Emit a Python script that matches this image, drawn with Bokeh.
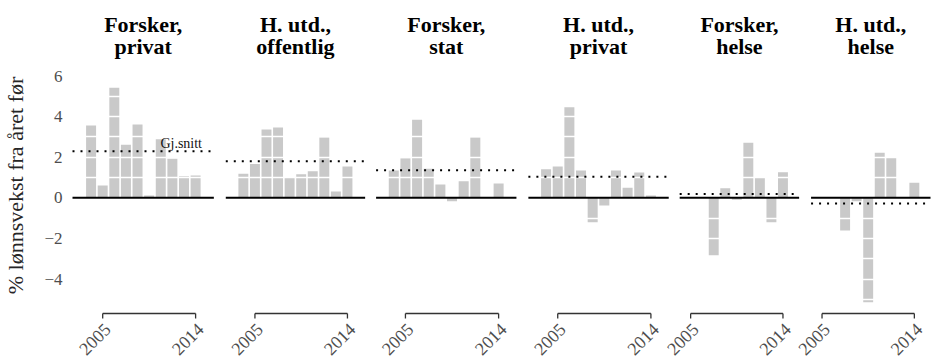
import math
import numpy as np
from bokeh.plotting import figure
from bokeh.models import Range1d, FixedTicker
from bokeh.core.properties import value
from bokeh.embed import file_html
from bokeh.resources import INLINE

# ---- data ----
TITLES = [("Forsker,", "privat"), ("H. utd.,", "offentlig"), ("Forsker,", "stat"),
          ("H. utd.,", "privat"), ("Forsker,", "helse"), ("H. utd.,", "helse")]
YEARS = list(range(2005, 2015))
TICK_LABELS = ["2005", "2014"]
forsker_privat = [3.56, 0.61, 5.42, 2.61, 3.61, 0.11, 2.89, 1.92, 1.06, 1.10]
hutd_offentlig = [1.18, 1.67, 3.36, 3.46, 0.99, 1.16, 1.31, 2.97, 0.31, 1.54]
forsker_stat = [1.34, 1.95, 3.84, 1.43, 0.66, -0.17, 0.82, 2.97, 0.00, 0.70]
hutd_privat = [1.41, 1.54, 4.46, 1.34, -1.20, -0.38, 1.34, 0.49, 1.25, 0.11]
forsker_helse = [None, None, None, -2.83, 0.47, -0.10, 2.71, 1.02, -1.20, 1.26]
hutd_helse = [None, None, None, -1.61, -0.17, -5.14, 2.22, 1.97, 0.00, 0.74]
SERIES = [forsker_privat, hutd_offentlig, forsker_stat, hutd_privat, forsker_helse, hutd_helse]
Y_TICKS = [-4, -2, 0, 2, 4, 6]

BAR = "#c9c9c9"
SERIF = "Liberation Serif"

# bar-index positions of the two year labels, as they appear in the picture
tick_pos = [1, 9]

# ---- layout (pixels) ----
W, H = 932, 358
LEFT, TOP = 68, 12
PANEL_LEFT = [68, 222, 373, 526, 678, 810]
PANEL_W = [142, 140, 141, 141, 120, 120]
X_RANGES = [(-1.60, 10.57), (-1.52, 10.53), (-1.52, 10.53), (-1.52, 10.53), (0.05, 10.40), (0.05, 10.40)]
ZERO_PX, UNIT_Y = 197.3, 20.3   # page row of y=0, pixels per percentage point


def ypx(py):
    """data y for a page row (pixels)"""
    return (ZERO_PX - py) / UNIT_Y


def xpx(i, k):
    x0, x1 = X_RANGES[i]
    return PANEL_LEFT[i] + (k - x0) * PANEL_W[i] / (x1 - x0)


p = figure(width=W, height=H, x_range=Range1d(LEFT, W), y_range=Range1d(ypx(H), ypx(TOP)),
           output_backend="svg", toolbar_location=None,
           min_border_left=LEFT, min_border_right=0, min_border_top=TOP, min_border_bottom=0,
           x_axis_location=None)
p.outline_line_color = None
p.background_fill_color = "white"
p.border_fill_color = "white"
p.xgrid.visible = False
p.ygrid.ticker = FixedTicker(ticks=[-5, -4, -3, -2, -1, 1, 2, 3, 4, 5, 6])
p.ygrid.grid_line_color = "white"
p.ygrid.grid_line_width = 1.6
p.ygrid.level = "annotation"

for i, (title, vals) in enumerate(zip(TITLES, SERIES)):
    unit = PANEL_W[i] / (X_RANGES[i][1] - X_RANGES[i][0])
    ks = [k for k, v in enumerate(vals) if v is not None]
    ys = [v for v in vals if v is not None]
    xs = [xpx(i, k) for k in ks]
    p.vbar(x=xs, top=ys, bottom=0, width=0.86 * unit, fill_color=BAR, line_color=None)

    xa, xb = PANEL_LEFT[i], PANEL_LEFT[i] + PANEL_W[i]
    mean = float(np.mean(ys))
    r0 = p.segment(x0=[xa], y0=[0], x1=[xb], y1=[0], line_color="black", line_width=2)
    r0.level = "overlay"
    r1 = p.segment(x0=[xa], y0=[mean], x1=[xb], y1=[mean], line_color="black", line_width=2,
                   line_dash="2 6")
    r1.level = "overlay"

    # panel title (two lines)
    cx = xa + PANEL_W[i] / 2
    p.text(x=[cx, cx], y=[ypx(24), ypx(46)], text=list(title), text_align="center",
           text_baseline="alphabetic", text_font=value(SERIF), text_font_style="bold",
           text_font_size=value("22px"), text_color="black")

    if i == 0:
        p.text(x=[xpx(i, 9.55)], y=[mean + 8 / UNIT_Y], text=["Gj.snitt"], text_align="right",
               text_baseline="alphabetic", text_font=value(SERIF), text_font_size=value("14px"),
               text_color="#111111")

    # bracket-style year axis
    tx = [xpx(i, t) for t in tick_pos]
    ya, yt = ypx(313), ypx(318)
    p.segment(x0=[tx[0], tx[0], tx[1]], y0=[ya, ya, ya], x1=[tx[1], tx[0], tx[1]], y1=[ya, yt, yt],
              line_color="#333333", line_width=1.3)
    p.text(x=tx, y=[ypx(321)] * 2, text=TICK_LABELS, angle=math.pi / 4, text_align="right",
           text_baseline="top", text_font=value(SERIF), text_font_size=value("18px"),
           text_color="#4d4d4d")

yax = p.yaxis[0]
yax.ticker = FixedTicker(ticks=Y_TICKS)
yax.axis_line_color = None
yax.major_tick_line_color = None
yax.minor_tick_line_color = None
yax.major_tick_out = 0
yax.major_tick_in = 0
yax.major_label_text_font = SERIF
yax.major_label_text_font_size = "17px"
yax.major_label_text_color = "#4d4d4d"
yax.major_label_standoff = 10
yax.axis_label = "% lønnsvekst fra året før"
yax.axis_label_text_font = SERIF
yax.axis_label_text_font_size = "22px"
yax.axis_label_text_font_style = "normal"
yax.axis_label_text_color = "#262626"
yax.axis_label_standoff = 13

open("out.html", "w").write(file_html(p, INLINE))
